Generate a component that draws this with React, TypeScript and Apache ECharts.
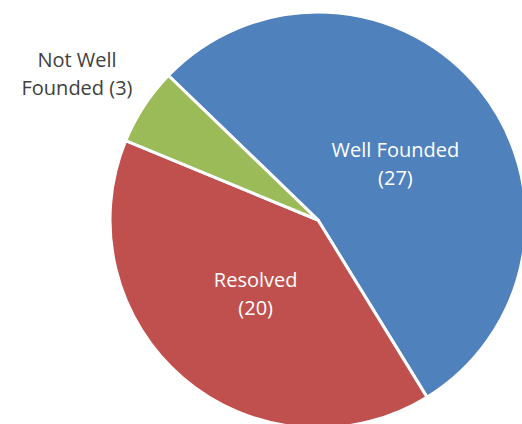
import React, { useEffect, useRef } from "react";
import * as echarts from "echarts";

const categories = ["Well Founded", "Resolved", "Not Well Founded"];
const values = [27, 20, 3];
const colors = ["#4F81BD", "#C0504D", "#9BBB59"];
const labelTexts = ["Well Founded\n(27)", "Resolved\n(20)", "Not Well\nFounded (3)"];

export default function App() {
  const ref = useRef<HTMLDivElement>(null);
  useEffect(() => {
    if (!ref.current) return;
    const chart = echarts.init(ref.current, undefined, { renderer: "svg" });
    const data = categories.map((name, i) => ({
      name,
      value: values[i],
      itemStyle: { color: colors[i] },
      label:
        i === 2
          ? { position: "outside", color: "#404040" }
          : { position: "inside", color: "#ffffff" },
      labelLine: { show: false },
    }));
    chart.setOption({
      animation: false,
      backgroundColor: "#ffffff",
      series: [
        {
          type: "pie",
          center: [318, 220],
          radius: 208,
          startAngle: 136,
          clockwise: true,
          avoidLabelOverlap: false,
          itemStyle: { borderColor: "#ffffff", borderWidth: 3 },
          label: {
            show: true,
            fontFamily: "Open Sans",
            fontSize: 20,
            lineHeight: 28,
            align: "center",
            formatter: (p: any) => labelTexts[p.dataIndex],
          },
          labelLayout: (p: any) => {
            if (p.dataIndex === 2) {
              return { x: 77, y: 73, align: "center", verticalAlign: "middle" };
            }
            if (p.dataIndex === 0) return { dx: -6, dy: 11 };
            return { dx: 7, dy: -8 };
          },
          emphasis: { disabled: true },
          data,
        },
      ],
    });
    return () => chart.dispose();
  }, []);
  return (
    <div
      ref={ref}
      style={{ position: "absolute", left: 0, top: 0, width: 522, height: 424 }}
    />
  );
}
